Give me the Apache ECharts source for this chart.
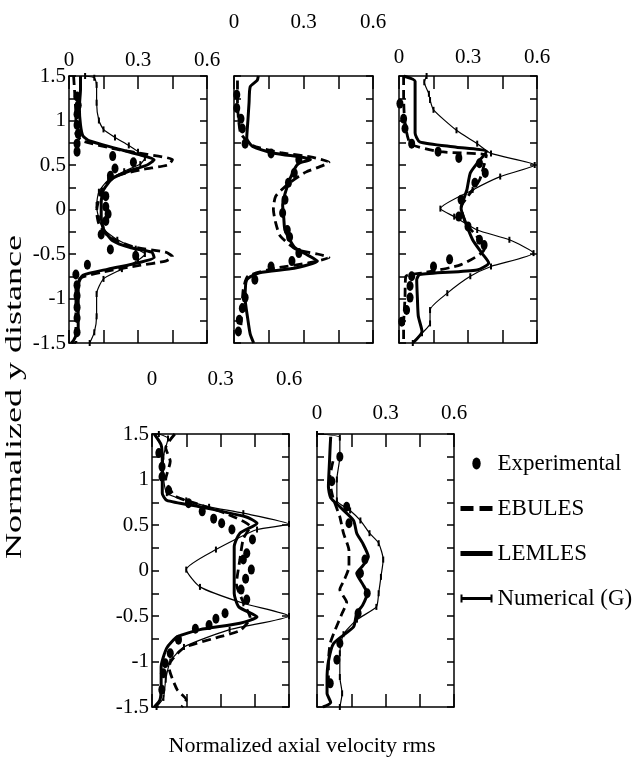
<!DOCTYPE html>
<html>
<head>
<meta charset="utf-8">
<script src="https://cdn.jsdelivr.net/npm/echarts@6/dist/echarts.min.js"></script>
<style>
html, body { margin: 0; padding: 0; background: #fff; }
#main { width: 632px; height: 762px; }
</style>
</head>
<body>
<div id="main"></div>
<script>
// tick labels
var xLabels = [0, 0.3, 0.6];
var yLabels = [1.5, 1, 0.5, 0, -0.5, -1, -1.5];

// panel 1  [rms, y]
var exp1 = [[0.035,1.27],[0.04,1.17],[0.035,1.07],[0.035,0.95],[0.04,0.85],[0.035,0.74],[0.035,0.65],[0.19,0.6],[0.28,0.53],[0.2,0.46],[0.18,0.38],[0.16,0.15],[0.16,0.03],[0.17,-0.05],[0.16,-0.13],[0.14,-0.28],[0.18,-0.45],[0.29,-0.52],[0.08,-0.62],[0.03,-0.73],[0.035,-0.85],[0.035,-0.97],[0.035,-1.1],[0.035,-1.22],[0.035,-1.38]];
var ebu1 = [[0.02,1.5],[0.025,1.3],[0.03,1.05],[0.03,0.85],[0.06,0.77],[0.2,0.68],[0.34,0.62],[0.45,0.56],[0.43,0.5],[0.32,0.45],[0.21,0.38],[0.15,0.26],[0.13,0.12],[0.12,-0.02],[0.13,-0.16],[0.17,-0.3],[0.28,-0.42],[0.42,-0.48],[0.45,-0.53],[0.42,-0.58],[0.3,-0.63],[0.15,-0.7],[0.05,-0.77],[0.03,-0.9],[0.03,-1.15],[0.03,-1.4],[0.03,-1.5]];
var lem1 = [[0.05,1.5],[0.05,1.35],[0.045,1.15],[0.05,0.95],[0.06,0.83],[0.09,0.77],[0.2,0.69],[0.3,0.62],[0.37,0.56],[0.34,0.5],[0.26,0.43],[0.19,0.35],[0.15,0.22],[0.14,0.08],[0.14,-0.08],[0.15,-0.22],[0.19,-0.35],[0.27,-0.43],[0.36,-0.48],[0.37,-0.54],[0.3,-0.6],[0.17,-0.67],[0.06,-0.74],[0.04,-0.85],[0.04,-1.1],[0.04,-1.35],[0.02,-1.47],[0.01,-1.5]];
var num1 = [[0.07,1.5],[0.11,1.48],[0.12,1.4],[0.12,1.2],[0.13,1.0],[0.15,0.9],[0.2,0.81],[0.26,0.72],[0.3,0.65],[0.33,0.58],[0.31,0.51],[0.24,0.43],[0.17,0.33],[0.13,0.2],[0.12,0.05],[0.13,-0.1],[0.15,-0.22],[0.21,-0.34],[0.29,-0.44],[0.33,-0.5],[0.3,-0.57],[0.23,-0.67],[0.15,-0.78],[0.12,-0.95],[0.12,-1.2],[0.11,-1.38],[0.09,-1.5]];

// panel 2
var exp2 = [[0.012,1.29],[0.012,1.14],[0.03,1.02],[0.036,0.91],[0.048,0.74],[0.16,0.63],[0.28,0.56],[0.26,0.41],[0.235,0.3],[0.22,0.11],[0.21,-0.04],[0.23,-0.23],[0.24,-0.31],[0.28,-0.49],[0.25,-0.58],[0.16,-0.64],[0.09,-0.79],[0.048,-0.99],[0.036,-1.11],[0.023,-1.24],[0.019,-1.37]];
var ebu2 = [[0.015,1.45],[0.015,1.2],[0.02,1.0],[0.03,0.85],[0.08,0.72],[0.2,0.64],[0.33,0.59],[0.41,0.53],[0.38,0.49],[0.31,0.42],[0.24,0.3],[0.18,0.15],[0.17,0.0],[0.18,-0.15],[0.2,-0.3],[0.27,-0.45],[0.36,-0.5],[0.41,-0.54],[0.32,-0.6],[0.18,-0.66],[0.06,-0.75],[0.04,-0.9],[0.035,-1.1],[0.03,-1.3]];
var lem2 = [[0.105,1.5],[0.1,1.45],[0.07,1.38],[0.065,1.2],[0.06,1.0],[0.055,0.8],[0.08,0.71],[0.18,0.63],[0.29,0.59],[0.33,0.56],[0.28,0.52],[0.26,0.45],[0.23,0.26],[0.21,0.05],[0.215,-0.1],[0.22,-0.23],[0.26,-0.42],[0.31,-0.5],[0.36,-0.58],[0.26,-0.66],[0.11,-0.71],[0.055,-0.79],[0.048,-1.0],[0.06,-1.24],[0.07,-1.4],[0.085,-1.5]];

// panel 3
var exp3 = [[0.004,1.19],[0.02,1.02],[0.026,0.91],[0.055,0.74],[0.17,0.65],[0.26,0.58],[0.35,0.52],[0.375,0.41],[0.33,0.3],[0.27,0.11],[0.26,-0.08],[0.3,-0.19],[0.35,-0.34],[0.37,-0.4],[0.22,-0.56],[0.15,-0.64],[0.055,-0.75],[0.048,-0.86],[0.048,-0.99],[0.033,-1.13],[0.012,-1.26]];
var ebu3 = [[0.02,1.5],[0.02,1.3],[0.025,1.0],[0.05,0.74],[0.18,0.65],[0.38,0.61],[0.37,0.5],[0.35,0.33],[0.3,0.15],[0.27,0.03],[0.29,-0.15],[0.35,-0.34],[0.37,-0.45],[0.27,-0.62],[0.11,-0.71],[0.03,-0.75],[0.026,-1.0],[0.02,-1.3],[0.02,-1.5]];
var lem3 = [[0.02,1.5],[0.07,1.44],[0.07,1.23],[0.07,1.0],[0.07,0.86],[0.09,0.76],[0.25,0.7],[0.38,0.65],[0.34,0.52],[0.31,0.41],[0.295,0.22],[0.27,0.01],[0.29,-0.15],[0.32,-0.34],[0.36,-0.49],[0.39,-0.6],[0.34,-0.68],[0.09,-0.73],[0.077,-0.79],[0.08,-1.0],[0.084,-1.2],[0.1,-1.37],[0.06,-1.5]];
var num3 = [[0.12,1.5],[0.11,1.43],[0.13,1.3],[0.135,1.23],[0.15,1.12],[0.25,0.89],[0.34,0.74],[0.4,0.63],[0.59,0.5],[0.44,0.37],[0.32,0.22],[0.18,0.01],[0.24,-0.08],[0.34,-0.23],[0.48,-0.34],[0.585,-0.49],[0.4,-0.64],[0.31,-0.75],[0.21,-0.94],[0.135,-1.13],[0.135,-1.28],[0.1,-1.39],[0.06,-1.5]];

// panel 4
var exp4 = [[0.03,1.29],[0.044,1.14],[0.044,1.03],[0.073,0.88],[0.16,0.74],[0.22,0.65],[0.27,0.57],[0.305,0.52],[0.35,0.45],[0.44,0.34],[0.415,0.19],[0.4,0.12],[0.435,0.01],[0.41,-0.09],[0.39,-0.21],[0.415,-0.32],[0.32,-0.47],[0.28,-0.53],[0.25,-0.6],[0.19,-0.64],[0.116,-0.76],[0.08,-0.91],[0.058,-1.02],[0.05,-1.13],[0.043,-1.31]];
var ebu4 = [[0.1,1.5],[0.06,1.35],[0.08,1.2],[0.06,1.0],[0.1,0.82],[0.2,0.73],[0.33,0.62],[0.43,0.48],[0.4,0.35],[0.385,0.12],[0.37,-0.15],[0.4,-0.35],[0.43,-0.52],[0.385,-0.66],[0.28,-0.74],[0.14,-0.85],[0.073,-1.05],[0.11,-1.31],[0.15,-1.42],[0.13,-1.5]];
var lem4 = [[0.01,1.5],[0.04,1.38],[0.045,1.21],[0.045,0.85],[0.065,0.77],[0.21,0.7],[0.41,0.59],[0.46,0.52],[0.385,0.41],[0.36,0.26],[0.36,0.01],[0.36,-0.25],[0.38,-0.4],[0.46,-0.51],[0.385,-0.58],[0.21,-0.65],[0.11,-0.73],[0.065,-0.85],[0.04,-1.06],[0.04,-1.28],[0.035,-1.42],[0.01,-1.5]];
var num4 = [[0.03,1.5],[0.07,1.45],[0.05,1.25],[0.05,1.05],[0.065,0.85],[0.15,0.77],[0.25,0.7],[0.4,0.63],[0.6,0.51],[0.46,0.45],[0.28,0.23],[0.15,0.01],[0.21,-0.18],[0.4,-0.36],[0.6,-0.5],[0.34,-0.65],[0.14,-0.84],[0.08,-1.0],[0.06,-1.2],[0.05,-1.4],[0.02,-1.5]];

// panel 5
var exp5 = [[0.1,1.25],[0.065,0.98],[0.13,0.7],[0.14,0.52],[0.21,0.12],[0.19,-0.03],[0.22,-0.25],[0.18,-0.47],[0.1,-0.8],[0.087,-0.98],[0.058,-1.24]];
var ebu5 = [[0.07,1.2],[0.055,1.0],[0.07,0.8],[0.1,0.59],[0.116,0.41],[0.14,0.22],[0.14,0.04],[0.12,-0.1],[0.1,-0.21],[0.13,-0.35],[0.11,-0.47],[0.08,-0.65],[0.058,-0.8],[0.05,-1.0],[0.05,-1.2]];
var lem5 = [[0.06,1.47],[0.058,1.38],[0.055,1.21],[0.05,0.92],[0.06,0.8],[0.1,0.7],[0.16,0.55],[0.174,0.41],[0.2,0.3],[0.225,0.15],[0.2,0.05],[0.174,-0.03],[0.2,-0.15],[0.22,-0.25],[0.2,-0.38],[0.174,-0.47],[0.16,-0.62],[0.073,-0.8],[0.05,-1.0],[0.044,-1.2],[0.044,-1.35],[0.06,-1.45],[0.026,-1.5]];
var num5 = [[0.0,1.5],[0.1,1.46],[0.1,1.25],[0.087,1.0],[0.087,0.77],[0.145,0.66],[0.19,0.55],[0.23,0.41],[0.27,0.3],[0.29,0.12],[0.28,-0.07],[0.27,-0.25],[0.26,-0.4],[0.175,-0.54],[0.116,-0.7],[0.1,-0.91],[0.1,-1.17],[0.11,-1.35],[0.1,-1.5]];

var panels = [
    {exp: exp1, ebu: ebu1, lem: lem1, num: num1},
    {exp: exp2, ebu: ebu2, lem: lem2, num: null},
    {exp: exp3, ebu: ebu3, lem: lem3, num: num3},
    {exp: exp4, ebu: ebu4, lem: lem4, num: num4},
    {exp: exp5, ebu: ebu5, lem: lem5, num: num5}
];

var FONT = 'Liberation Serif';

//各小图的位置
var boxes = [
    {left: 69,  top: 76,  width: 138, height: 267, xMargin: 5,  yLabel: true},
    {left: 234, top: 76,  width: 139, height: 267, xMargin: 43, yLabel: false},
    {left: 399, top: 76,  width: 138, height: 267, xMargin: 8,  yLabel: false},
    {left: 152, top: 434, width: 137, height: 273, xMargin: 44, yLabel: true},
    {left: 317, top: 434, width: 137, height: 273, xMargin: 10, yLabel: false}
];

function inList(list, v){
    return list.some(function(l){ return Math.abs(l - v) < 1e-6; });
}

var frameLine = {show: true, onZero: false, lineStyle: {color: '#000', width: 1.5}};

var grid = [], xAxis = [], yAxis = [], series = [];

boxes.forEach(function(b, g){
    grid.push({left: b.left, top: b.top, width: b.width, height: b.height,
        containLabel: false, outerBoundsMode: 'none'});

    [0, 1].forEach(function(k){
        xAxis.push({
            gridIndex: g, type: 'value', position: k ? 'bottom' : 'top',
            min: 0, max: 0.6, interval: 0.15,
            axisLine: frameLine,
            axisTick: {show: true, inside: true, length: 13, lineStyle: {color: '#000', width: 1.5}},
            axisLabel: {
                show: !k, margin: b.xMargin, color: '#000', fontFamily: FONT, fontSize: 21,
                formatter: function(v){ return inList(xLabels, v) ? String(+v.toFixed(1)) : ''; }
            },
            splitLine: {show: false}
        });
        yAxis.push({
            gridIndex: g, type: 'value', position: k ? 'right' : 'left',
            min: -1.5, max: 1.5, interval: 0.25,
            axisLine: frameLine,
            axisTick: {show: true, inside: true, length: 7, lineStyle: {color: '#000', width: 1.5}},
            axisLabel: {
                show: !k && b.yLabel, margin: 3, color: '#000', fontFamily: FONT, fontSize: 21,
                formatter: function(v){ return inList(yLabels, v) ? String(+v.toFixed(1)) : ''; }
            },
            splitLine: {show: false}
        });
    });

    var p = panels[g], ax = {xAxisIndex: 2 * g, yAxisIndex: 2 * g};
    if(p.num) series.push(Object.assign({
        name: 'Numerical (G)', type: 'line', data: p.num, smooth: 0.2,
        symbol: 'rect', symbolSize: [2, 6], showSymbol: true,
        lineStyle: {color: '#000', width: 1.2}, itemStyle: {color: '#000'}
    }, ax));
    series.push(Object.assign({
        name: 'EBULES', type: 'line', data: p.ebu, smooth: 0.2, symbol: 'none',
        lineStyle: {color: '#000', width: 2.8, type: [9, 5]}, itemStyle: {color: '#000'}
    }, ax));
    series.push(Object.assign({
        name: 'LEMLES', type: 'line', data: p.lem, smooth: 0.2, symbol: 'none',
        lineStyle: {color: '#000', width: 3}, itemStyle: {color: '#000'}
    }, ax));
    series.push(Object.assign({
        name: 'Experimental', type: 'scatter', data: p.exp,
        symbol: 'circle', symbolSize: [7, 10], itemStyle: {color: '#000', opacity: 1}, z: 5
    }, ax));
});

var chart = echarts.init(document.getElementById('main'), null, {renderer: 'canvas'});
chart.setOption({
    backgroundColor: '#fff',
    animation: false,
    grid: grid,
    xAxis: xAxis,
    yAxis: yAxis,
    series: series,
    legend: {
        orient: 'vertical', left: 458, top: 452, padding: 0,
        itemWidth: 32, itemHeight: 12, itemGap: 22,
        textStyle: {fontFamily: FONT, fontSize: 23, color: '#000'},
        data: [
            {name: 'Experimental', icon: 'path://M0,5A3.5,5 0 1,1 7,5A3.5,5 0 1,1 0,5Z', itemStyle: {color: '#000', opacity: 1}},
            {name: 'EBULES', itemStyle: {opacity: 0}, lineStyle: {width: 5, type: [13, 6]}},
            {name: 'LEMLES', itemStyle: {opacity: 0}, lineStyle: {width: 5}},
            {name: 'Numerical (G)', icon: 'path://M0,2h2v8h-2zM2,4.5h28v3h-28zM30,2h2v8h-2zM0,0h0.01v12h-0.01zM31.99,0h0.01v12h-0.01z'}
        ]
    },
    graphic: [
        {type: 'text', x: 15, y: 397, rotation: Math.PI / 2, scaleY: 0.62,
            style: {text: 'Normalized y distance', font: '36px "Liberation Serif"', fill: '#000', align: 'center', verticalAlign: 'middle'}},
        {type: 'text', x: 302, y: 746,
            style: {text: 'Normalized axial velocity rms', font: '22px "Liberation Serif"', fill: '#000', align: 'center', verticalAlign: 'middle'}}
    ]
});
</script>
</body>
</html>
